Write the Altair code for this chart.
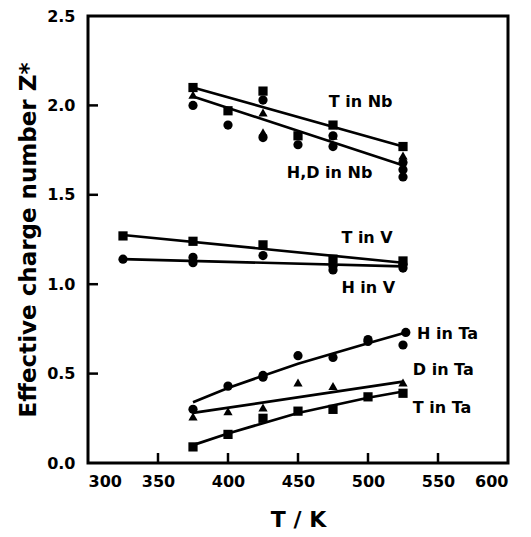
import altair as alt
import pandas as pd

# ---------------- data ----------------
# Nb
t_nb_T = [375, 400, 425, 450, 475, 525]
t_nb_Z = [2.10, 1.97, 2.08, 1.83, 1.89, 1.77]
hd_nb_circ_T = [375, 400, 425, 425, 450, 475, 475, 525, 525, 525]
hd_nb_circ_Z = [2.00, 1.89, 2.03, 1.82, 1.78, 1.83, 1.77, 1.68, 1.64, 1.60]
hd_nb_tri_T = [375, 425, 425, 475, 525]
hd_nb_tri_Z = [2.06, 1.96, 1.85, 1.83, 1.72]
# V
t_v_T = [325, 375, 425, 475, 525]
t_v_Z = [1.27, 1.24, 1.22, 1.14, 1.13]
h_v_T = [325, 375, 375, 425, 475, 475, 525, 525]
h_v_Z = [1.14, 1.15, 1.12, 1.16, 1.10, 1.08, 1.11, 1.09]
# Ta
h_ta_T = [375, 400, 425, 425, 450, 475, 500, 500, 525, 527]
h_ta_Z = [0.30, 0.43, 0.48, 0.49, 0.60, 0.59, 0.68, 0.69, 0.66, 0.73]
d_ta_T = [375, 400, 425, 450, 475, 525]
d_ta_Z = [0.26, 0.29, 0.31, 0.45, 0.43, 0.45]
t_ta_T = [375, 400, 425, 450, 475, 500, 525]
t_ta_Z = [0.09, 0.16, 0.25, 0.29, 0.30, 0.37, 0.39]

# fitted lines
fit_t_nb_T = [375, 525];            fit_t_nb_Z = [2.10, 1.77]
fit_hd_nb_T = [375, 527];           fit_hd_nb_Z = [2.05, 1.66]
fit_t_v_T = [325, 525];             fit_t_v_Z = [1.275, 1.12]
fit_h_v_T = [325, 525];             fit_h_v_Z = [1.14, 1.10]
fit_h_ta_T = [375, 400, 450, 500, 527]; fit_h_ta_Z = [0.34, 0.42, 0.555, 0.67, 0.73]
fit_d_ta_T = [375, 525];            fit_d_ta_Z = [0.28, 0.455]
fit_t_ta_T = [375, 400, 450, 500, 525]; fit_t_ta_Z = [0.10, 0.165, 0.28, 0.365, 0.40]

# labels
label_text = ["T in Nb", "H,D in Nb", "T in V", "H in V", "H in Ta", "D in Ta", "T in Ta"]
label_T = [472, 442, 481, 481, 535, 532, 532]
label_Z = [2.02, 1.62, 1.26, 0.98, 0.72, 0.52, 0.31]

x_ticks = [300, 350, 400, 450, 500, 550, 600]
y_ticks = [0.0, 0.5, 1.0, 1.5, 2.0, 2.5]
x_inner_ticks = [350, 400, 450, 500, 550]
y_inner_ticks = [0.5, 1.0, 1.5, 2.0]

# ---------------- tables ----------------
def pts(T, Z, shape):
    return pd.DataFrame({"T": T, "Z": Z, "shape": shape})

points = pd.concat([
    pts(t_nb_T, t_nb_Z, "square"),
    pts(hd_nb_circ_T, hd_nb_circ_Z, "circle"),
    pts(hd_nb_tri_T, hd_nb_tri_Z, "triangle"),
    pts(t_v_T, t_v_Z, "square"),
    pts(h_v_T, h_v_Z, "circle"),
    pts(h_ta_T, h_ta_Z, "circle"),
    pts(d_ta_T, d_ta_Z, "triangle"),
    pts(t_ta_T, t_ta_Z, "square"),
], ignore_index=True)

def fit(T, Z, name):
    return pd.DataFrame({"T": T, "Z": Z, "fit": name})

fits = pd.concat([
    fit(fit_t_nb_T, fit_t_nb_Z, "tnb"),
    fit(fit_hd_nb_T, fit_hd_nb_Z, "hdnb"),
    fit(fit_t_v_T, fit_t_v_Z, "tv"),
    fit(fit_h_v_T, fit_h_v_Z, "hv"),
    fit(fit_h_ta_T, fit_h_ta_Z, "hta"),
    fit(fit_d_ta_T, fit_d_ta_Z, "dta"),
    fit(fit_t_ta_T, fit_t_ta_Z, "tta"),
], ignore_index=True)

labels = pd.DataFrame({"T": label_T, "Z": label_Z, "text": label_text})

FONT = "DejaVu Sans"

x_enc = alt.X("T:Q", scale=alt.Scale(domain=[300, 600], nice=False),
              axis=alt.Axis(values=x_ticks, title="T / K", format="d"))
y_enc = alt.Y("Z:Q", scale=alt.Scale(domain=[0, 2.5], nice=False),
              axis=alt.Axis(values=y_ticks, title="Effective charge number  Z*", format=".1f"))

lines = alt.Chart(fits).mark_line(color="black", strokeWidth=2.7).encode(
    x=x_enc, y=y_enc, detail="fit:N", order="T:Q")

marks = alt.Chart(points).mark_point(filled=True, size=85, opacity=1, color="black").encode(
    x=x_enc, y=y_enc,
    shape=alt.Shape("shape:N", legend=None,
                    scale=alt.Scale(domain=["circle", "square", "triangle"],
                                    range=["circle", "square", "triangle-up"])))

texts = alt.Chart(labels).mark_text(align="left", baseline="middle", font=FONT,
                                    fontSize=16, fontWeight="bold", color="black").encode(
    x=x_enc, y=y_enc, text="text:N")

xt = alt.Chart(pd.DataFrame({"T": x_inner_ticks})).mark_rule(color="black", strokeWidth=2.5).encode(
    x=x_enc, y=alt.value(447), y2=alt.value(437))
yt = alt.Chart(pd.DataFrame({"Z": y_inner_ticks})).mark_rule(color="black", strokeWidth=2.5).encode(
    y=y_enc, x=alt.value(0), x2=alt.value(10))

chart = alt.layer(lines, marks, texts, xt, yt).properties(
    width=420, height=447,
    autosize="none",
    padding={"left": 80, "top": 8, "right": 15, "bottom": 74},
).configure_view(stroke="black", strokeWidth=3).configure_axis(
    domain=False, ticks=False, grid=False,
    labelFont=FONT, labelFontSize=16, labelFontWeight="bold", labelColor="black",
    titleFont=FONT, titleFontWeight="bold", titleColor="black",
).configure_axisX(labelPadding=10, titlePadding=20, titleFontSize=22).configure_axisY(
    labelPadding=13, titlePadding=6, titleFontSize=23)

chart.save("out.html", embed_options={"renderer": "svg", "actions": False})
